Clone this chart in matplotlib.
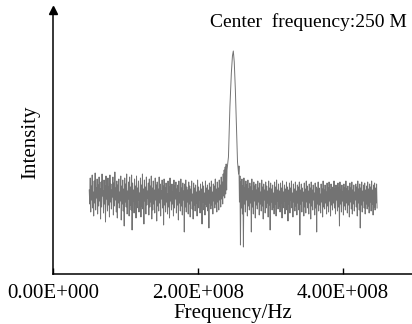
import numpy as np
import matplotlib
matplotlib.use("Agg")
import matplotlib.pyplot as plt
from matplotlib.ticker import FuncFormatter

# noise floor left of the carrier, 0.5E8 .. 2.395E8 Hz
noise_left = [
    84, 70, 96, 62, 88, 74, 99, 66, 82, 58, 93, 71, 101, 64, 86, 76, 95, 60, 89, 68,
    97, 73, 85, 55, 92, 67, 100, 78, 83, 61, 94, 70, 88, 52, 98, 75, 81, 63, 96, 69,
    87, 57, 99, 72, 90, 65, 84, 77, 97, 59, 91, 68, 102, 74, 86, 62, 93, 56, 89, 71,
    95, 66, 82, 73, 98, 54, 88, 70, 94, 63, 85, 48, 96, 72, 90, 67, 100, 60, 83, 75,
    92, 58, 97, 69, 87, 64, 99, 44, 91, 73, 84, 61, 95, 70, 88, 56, 98, 66, 86, 74,
    93, 62, 81, 71, 96, 57, 89, 68, 100, 65, 85, 50, 94, 73, 87, 60, 97, 69, 83, 76,
    91, 59, 95, 67, 88, 72, 98, 55, 86, 64, 93, 70, 84, 61, 96, 74, 89, 53, 92, 68,
    85, 63, 97, 71, 90, 58, 83, 75, 94, 66, 88, 49, 95, 69, 86, 62, 91, 72, 80, 60,
    93, 67, 87, 56, 96, 73, 84, 64, 90, 70, 82, 58, 94, 66, 88, 75, 92, 61, 85, 69,
    89, 54, 93, 71, 81, 63, 95, 68, 86, 59, 91, 74, 83, 42, 90, 67, 94, 62, 87, 72,
    84, 60, 92, 70, 88, 57, 85, 73, 93, 65, 80, 55, 91, 69, 86, 63, 89, 71, 82, 58,
    94, 66, 87, 74, 83, 61, 90, 68, 85, 50, 92, 72, 88, 64, 81, 59, 93, 70, 86, 67,
    89, 63, 84, 46, 91, 71, 87, 65, 93, 69, 82, 60, 90, 73, 88, 66, 95, 70, 85, 62,
    92, 72, 86, 64, 94, 74, 89, 67, 97, 75, 92, 70, 100, 78, 104, 76, 107, 80, 110, 84,
]

# the carrier peak at 250 MHz
peak_freq = [2.40e8, 2.42e8, 2.44e8, 2.46e8, 2.475e8, 2.487e8, 2.50e8,
             2.515e8, 2.53e8, 2.545e8, 2.56e8]
peak_vals = [104, 117, 167, 201, 218, 223, 212, 185, 150, 112, 100]

# noise floor right of the carrier, 2.565E8 .. 4.47E8 Hz
noise_right = [
    108, 72, 98, 29, 92, 66, 95, 60, 88, 27, 96, 70, 86, 62, 93, 74, 89, 58, 94, 68,
    85, 64, 91, 71, 87, 42, 95, 67, 83, 60, 92, 73, 88, 56, 90, 69, 84, 65, 93, 72,
    86, 59, 91, 70, 82, 63, 94, 68, 87, 55, 90, 74, 84, 61, 92, 66, 88, 71, 83, 57,
    93, 69, 86, 44, 91, 72, 85, 64, 89, 67, 81, 60, 92, 70, 87, 58, 94, 73, 84, 65,
    90, 68, 83, 62, 91, 71, 86, 56, 93, 66, 82, 73, 89, 60, 85, 69, 92, 64, 87, 53,
    84, 70, 91, 61, 86, 74, 93, 66, 81, 57, 90, 72, 85, 63, 92, 68, 83, 59, 89, 71,
    87, 64, 92, 39, 84, 70, 90, 62, 86, 73, 82, 58, 91, 67, 85, 61, 93, 72, 88, 66,
    83, 60, 90, 71, 86, 55, 92, 68, 84, 64, 89, 74, 81, 59, 91, 66, 87, 42, 85, 70,
    92, 63, 86, 69, 80, 61, 90, 72, 85, 57, 93, 67, 84, 65, 89, 71, 82, 60, 91, 68,
    86, 62, 92, 73, 84, 58, 90, 69, 87, 64, 81, 71, 93, 66, 85, 60, 89, 74, 83, 63,
    91, 67, 86, 48, 92, 70, 84, 62, 89, 73, 82, 59, 90, 68, 86, 64, 93, 71, 85, 61,
    88, 69, 83, 57, 91, 72, 86, 65, 92, 60, 84, 70, 89, 63, 82, 74, 90, 67, 87, 58,
    93, 71, 85, 64, 90, 46, 86, 69, 92, 62, 83, 73, 89, 66, 91, 60, 84, 70, 88, 65,
    92, 68, 85, 61, 90, 72, 87, 63, 93, 70, 84, 59, 89, 67, 91, 64, 86, 71, 90, 66,
]

xticks = [0, 2e8, 4e8]
annotation = "Center  frequency:250 M"

freq_left = np.linspace(0.5e8, 2.395e8, len(noise_left))
freq_right = np.linspace(2.565e8, 4.47e8, len(noise_right))
freq = np.concatenate([freq_left, peak_freq, freq_right])
vals = np.concatenate([noise_left, peak_vals, noise_right])

plt.rcParams['font.family'] = ['Liberation Serif', 'DejaVu Serif']

fig = plt.figure(figsize=(4.12, 3.24), dpi=100)
ax = fig.add_axes([53 / 412, 50 / 324, 1 - 53 / 412, 264 / 324])

ax.plot(freq, vals, color='0.45', lw=0.7)

ax.set_xlim(0, (412 - 53) / 72.5 * 1e8)
ax.set_ylim(0, 264)

for s in ['top', 'right']:
    ax.spines[s].set_visible(False)
ax.spines['left'].set_linewidth(1.1)
ax.spines['bottom'].set_linewidth(1.1)

# arrow head at the top of the y axis
ax.plot([0], [1], marker='^', markersize=6, color='black',
        transform=ax.transAxes, clip_on=False)


def sci(v, pos):
    if v == 0:
        return '0.00E+000'
    e = int(np.floor(np.log10(abs(v))))
    return f'{v / 10**e:.2f}E+{e:03d}'


ax.set_xticks(xticks)
ax.xaxis.set_major_formatter(FuncFormatter(sci))
ax.tick_params(axis='x', direction='in', length=4, width=1, labelsize=15, pad=7)
ax.set_yticks([])

ax.set_xlabel('Frequency/Hz', fontsize=15, labelpad=1)
ax.set_ylabel('Intensity', fontsize=15, labelpad=9)

ax.text(0.985, 0.955, annotation, transform=ax.transAxes, ha='right',
        va='center', fontsize=14)

fig.savefig('out.png', dpi=100)
